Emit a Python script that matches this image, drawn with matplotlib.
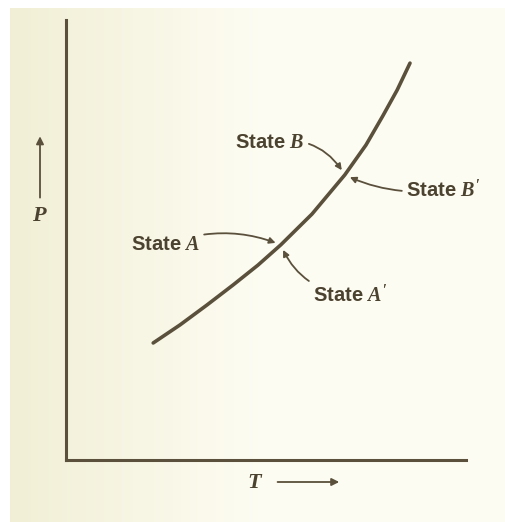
import matplotlib
matplotlib.use("Agg")
import matplotlib.pyplot as plt
import numpy as np

plt.rcParams["mathtext.fontset"] = "custom"
plt.rcParams["mathtext.it"] = "Liberation Serif:italic:bold"
plt.rcParams["mathtext.rm"] = "Liberation Serif:bold"

# P-T curve (arbitrary units, axes 0..1)
T_curve = [0.218, 0.285, 0.352, 0.418, 0.480, 0.537, 0.615, 0.697, 0.750, 0.792, 0.828, 0.860]
P_curve = [0.266, 0.307, 0.352, 0.398, 0.443, 0.489, 0.559, 0.648, 0.716, 0.782, 0.841, 0.902]

# marked states on the curve
state_A = (0.537, 0.489)
state_B = (0.697, 0.648)

ink = "#5a503b"
text_ink = "#4c4230"
paper_rgb = (0.995, 0.992, 0.955)

fig = plt.figure(figsize=(5.05, 5.22), dpi=100, facecolor=paper_rgb)

# scanned-paper tint: yellowish on the left, fading to near white
w, h = 505, 522
xx = np.arange(w)
t = np.clip((xx - 10) / 260.0, 0, 1)
cream = np.array([0.945, 0.937, 0.835])
paper = np.array(paper_rgb)
row = cream[None, :] * (1 - t[:, None]) + paper[None, :] * t[:, None]
row[xx < 10] = 1.0
img = np.repeat(row[None, :, :], h, axis=0)
img[:8, :, :] = 1.0
fig.figimage(img, xo=0, yo=0, origin="upper", zorder=-10)

ax = fig.add_axes([66 / w, (h - 460) / h, 400 / w, 440 / h])
ax.patch.set_alpha(0)
ax.set_xlim(0, 1)
ax.set_ylim(0, 1)
for side in ["top", "right"]:
    ax.spines[side].set_visible(False)
for side in ["left", "bottom"]:
    ax.spines[side].set_color(ink)
    ax.spines[side].set_linewidth(2.2)
ax.set_xticks([])
ax.set_yticks([])

ax.plot(T_curve, P_curve, color=ink, lw=2.6, solid_capstyle="round", solid_joinstyle="round")

lab = dict(fontsize=14.5, fontweight="bold", family="Liberation Sans", color=text_ink)
arr = dict(arrowstyle="-|>", color=ink, lw=1.3, mutation_scale=9, shrinkA=1, shrinkB=4)

ax.annotate("State $A$", xy=state_A, xytext=(0.335, 0.489), ha="right", va="center",
            arrowprops=dict(arr, connectionstyle="arc3,rad=-0.2"), **lab)
ax.annotate("State $B$", xy=state_B, xytext=(0.597, 0.722), ha="right", va="center",
            arrowprops=dict(arr, connectionstyle="arc3,rad=-0.35"), **lab)
ax.annotate("State $B'$", xy=state_B, xytext=(0.85, 0.614), ha="left", va="center",
            arrowprops=dict(arr, connectionstyle="arc3,rad=-0.15"), **lab)
ax.annotate("State $A'$", xy=state_A, xytext=(0.617, 0.375), ha="left", va="center",
            arrowprops=dict(arr, connectionstyle="arc3,rad=-0.3"), **lab)

# axis names with their direction arrows
ax.text(-0.065, 0.557, "$P$", ha="center", va="center", fontsize=16, color=text_ink)
ax.annotate("", xy=(-0.065, 0.742), xytext=(-0.065, 0.59), annotation_clip=False,
            arrowprops=dict(arrowstyle="-|>", color=ink, lw=1.3, mutation_scale=11))
ax.text(0.472, -0.05, "$T$", ha="center", va="center", fontsize=16, color=text_ink)
ax.annotate("", xy=(0.69, -0.05), xytext=(0.522, -0.05), annotation_clip=False,
            arrowprops=dict(arrowstyle="-|>", color=ink, lw=1.3, mutation_scale=11))

fig.savefig("out.png", dpi=100, facecolor=fig.get_facecolor())
